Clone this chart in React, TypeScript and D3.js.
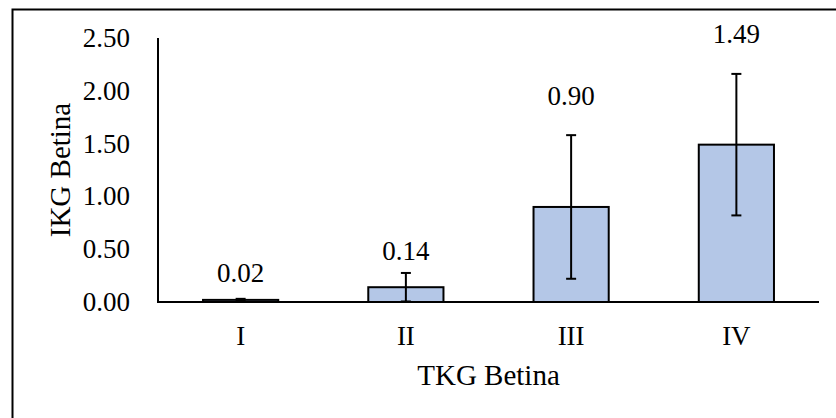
import React from "react";
import * as d3 from "d3";

const categories = ["I", "II", "III", "IV"];
const values = [0.02, 0.14, 0.9, 1.49];
const errors = [0.01, 0.135, 0.68, 0.67];
const valueLabels = ["0.02", "0.14", "0.90", "1.49"];
const yTicks = [0, 0.5, 1.0, 1.5, 2.0, 2.5];
const labelGaps = [17, 13, 30, 31];

const W = 836;
const H = 418;
const FAMILY = '"Liberation Serif", "Times New Roman", Times, serif';
const textStyle: React.CSSProperties = { fontFamily: FAMILY, fontSize: 27 };
const titleStyle: React.CSSProperties = { fontFamily: FAMILY, fontSize: 29 };

export default function App() {
  const x0 = 158, x1 = 819, yTop = 38, yBot = 302;
  const x = d3.scaleBand<string>().domain(categories).range([x0, x1]).paddingInner(0.545).paddingOuter(0.2725);
  const y = d3.scaleLinear().domain([0, 2.5]).range([yBot, yTop]);
  const bw = x.bandwidth();
  const cap = 5;
  return (
    <div style={{ position: "fixed", left: 0, top: 0 }}>
      <svg width={W} height={H} style={{ display: "block", background: "#fff" }}>
        <rect x={0} y={0} width={W} height={H} fill="#fff" />
        <rect x={12.5} y={9.5} width={W + 20} height={H + 20} fill="none" stroke="#000" strokeWidth={2} />
        {yTicks.map((t) => (
          <text key={t} x={130} y={y(t)} textAnchor="end" dominantBaseline="central" style={textStyle} fill="#000">
            {d3.format(".2f")(t)}
          </text>
        ))}
        {categories.map((c, i) => {
          const bx = x(c)!;
          const cx = bx + bw / 2;
          const v = values[i];
          const e = errors[i];
          const lo = y(Math.max(0, v - e));
          const hi = y(v + e);
          return (
            <g key={c}>
              <rect x={bx} y={y(v)} width={bw} height={yBot - y(v)} fill="#B4C7E7" stroke="#000" strokeWidth={2} />
              <line x1={cx} x2={cx} y1={hi} y2={lo} stroke="#000" strokeWidth={2} />
              <line x1={cx - cap} x2={cx + cap} y1={hi} y2={hi} stroke="#000" strokeWidth={2} />
              <line x1={cx - cap} x2={cx + cap} y1={lo} y2={lo} stroke="#000" strokeWidth={2} />
              <text x={cx} y={hi - labelGaps[i]} textAnchor="middle" style={textStyle} fill="#000">
                {valueLabels[i]}
              </text>
              <text x={cx} y={345} textAnchor="middle" style={textStyle} fill="#000">
                {c}
              </text>
            </g>
          );
        })}
        <line x1={x0} x2={x0} y1={yTop} y2={yBot} stroke="#000" strokeWidth={2} />
        <line x1={x0 - 1} x2={x1} y1={yBot} y2={yBot} stroke="#000" strokeWidth={2} />
        <text x={(x0 + x1) / 2} y={385} textAnchor="middle" style={titleStyle} fill="#000">
          TKG Betina
        </text>
        <text transform={`translate(70, ${(yTop + yBot) / 2}) rotate(-90)`} textAnchor="middle" style={titleStyle} fill="#000">
          IKG Betina
        </text>
      </svg>
    </div>
  );
}
